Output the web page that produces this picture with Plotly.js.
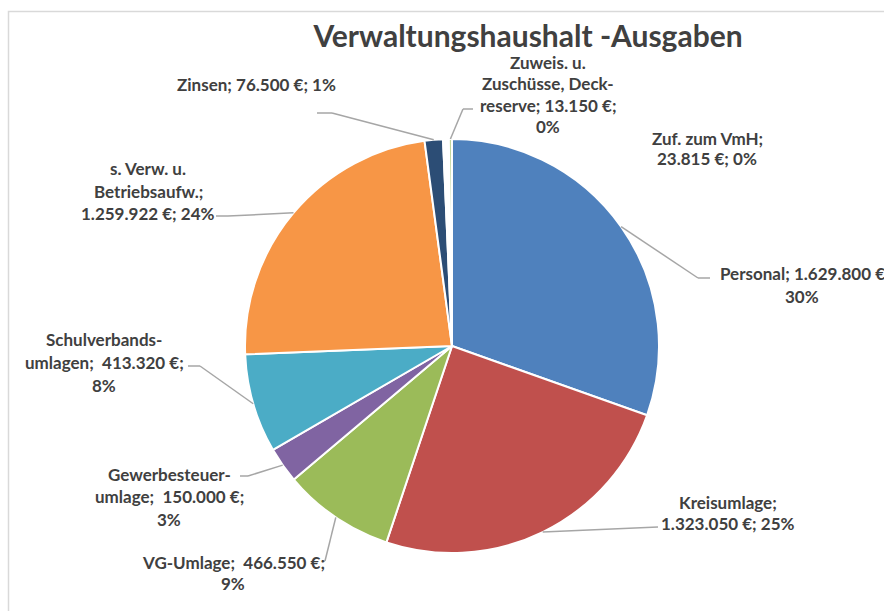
<!DOCTYPE html>
<html>
<head>
<meta charset="utf-8">
<script src="https://cdn.plot.ly/plotly-3.0.1.min.js"></script>
<style>html,body{margin:0;padding:0;background:#fff;}#chart{width:884px;height:611px;}</style>
</head>
<body>
<div id="chart"></div>
<script>
// ---- data ----
const categories = ['Personal','Kreisumlage','VG-Umlage','Gewerbesteuerumlage','Schulverbandsumlagen','s. Verw. u. Betriebsaufw.','Zinsen','Zuf. zum VmH','Zuweis. u. Zuschüsse, Deckreserve'];
const values = [1629800, 1323050, 466550, 150000, 413320, 1259922, 76500, 23815, 13150];
// label text templates ({v} = value, {p} = percent, | = line break)
const labelTemplates = [
  'Personal; {v} €|{p}%',
  'Kreisumlage;|{v} €; {p}%',
  'VG-Umlage;  {v} €;|{p}%',
  'Gewerbesteuer-|umlage;  {v} €;|{p}%',
  'Schulverbands-|umlagen;  {v} €;|{p}%',
  's. Verw. u.|Betriebsaufw.;|{v} €; {p}%',
  'Zinsen; {v} €; {p}%',
  'Zuf. zum VmH;|{v} €; {p}%',
  'Zuweis. u.|Zuschüsse, Deck-|reserve; {v} €;|{p}%'
];
const titleText = 'Verwaltungshaushalt -Ausgaben';

// ---- styles / layout ----
const colors = ['#4F81BD','#C0504D','#9BBB59','#8064A2','#4BACC6','#F79646','#2C4D75','#FFFFFF','#C3D69B'];
const W = 884, H = 611;
const cx = 452, cy = 346, R = 207;
// label placement (pixels): center x, y of each line
const labelPos = [
  {x: 802, y: [273, 296], lead: [[710,278],[698,278]]},
  {x: 728, y: [502, 523], lead: [[658,527]]},
  {x: 233, y: [562, 583], lead: [[322,561],[325,561]]},
  {x: 169, y: [474, 496, 519], lead: [[240,476],[248,476]]},
  {x: 104, y: [339, 362, 385], lead: [[188,366],[200,366]]},
  {x: 148, y: [168, 191, 213], lead: [[216,216],[228,216]]},
  {x: 256, y: [85], lead: [[317,113],[332,113]]},
  {x: 707, y: [138, 159], lead: null},
  {x: 548, y: [62, 83, 105, 127], lead: [[473,109],[463,109]]}
];

const px = x => x / W;
const py = y => 1 - y / H;
const fmt = v => String(v).replace(/\B(?=(\d{3})+(?!\d))/g, '.');
const total = values.reduce((a, b) => a + b, 0);
const labelFont = {family: 'Lato, "Open Sans", sans-serif', size: 17, color: '#404040', weight: 'bold'};

const annotations = [];
const shapes = [];
let cum = 0;
values.forEach((v, i) => {
  const frac = v / total;
  const mid = cum + frac / 2;
  cum += frac;
  const pct = Math.round(frac * 100);
  const lines = labelTemplates[i].replace('{v}', fmt(v)).replace('{p}', pct).split('|');
  const pos = labelPos[i];
  lines.forEach((ln, k) => {
    annotations.push({
      xref: 'paper', yref: 'paper', x: px(pos.x), y: py(pos.y[k]),
      xanchor: 'center', yanchor: 'middle', showarrow: false,
      text: ln, font: labelFont
    });
  });
  if (pos.lead) {
    const ang = mid * 2 * Math.PI; // clockwise from 12 o'clock
    const ex = cx + R * Math.sin(ang);
    const ey = cy - R * Math.cos(ang);
    const pts = pos.lead.concat([[ex, ey]]);
    for (let k = 0; k < pts.length - 1; k++) {
      shapes.push({type: 'line', xref: 'paper', yref: 'paper',
        x0: px(pts[k][0]), y0: py(pts[k][1]), x1: px(pts[k+1][0]), y1: py(pts[k+1][1]),
        line: {color: '#A6A6A6', width: 1.5}});
    }
  }
});

// chart frame
shapes.push({type: 'rect', xref: 'paper', yref: 'paper', x0: px(8.5), y0: py(11.5), x1: px(950), y1: py(700),
  line: {color: '#D9D9D9', width: 1.5}, fillcolor: 'rgba(0,0,0,0)', layer: 'below'});

const trace = {
  type: 'pie', labels: categories, values: values, sort: false, direction: 'clockwise', rotation: 0,
  marker: {colors: colors, line: {color: '#FFFFFF', width: 2}},
  textinfo: 'none', hoverinfo: 'label+value+percent',
  domain: {x: [px(cx - R), px(cx + R)], y: [py(cy + R), py(cy - R)]},
  showlegend: false
};

const layout = {
  width: W, height: H, margin: {l: 0, r: 0, t: 0, b: 0},
  paper_bgcolor: '#FFFFFF', plot_bgcolor: '#FFFFFF',
  title: {text: titleText, x: px(528), xanchor: 'center', y: py(36), yanchor: 'middle',
    font: {family: 'Lato, "Open Sans", sans-serif', size: 30, color: '#404040', weight: 'bold'}},
  annotations: annotations, shapes: shapes, showlegend: false
};

Plotly.newPlot('chart', [trace], layout, {displayModeBar: false, staticPlot: true});
</script>
</body>
</html>
